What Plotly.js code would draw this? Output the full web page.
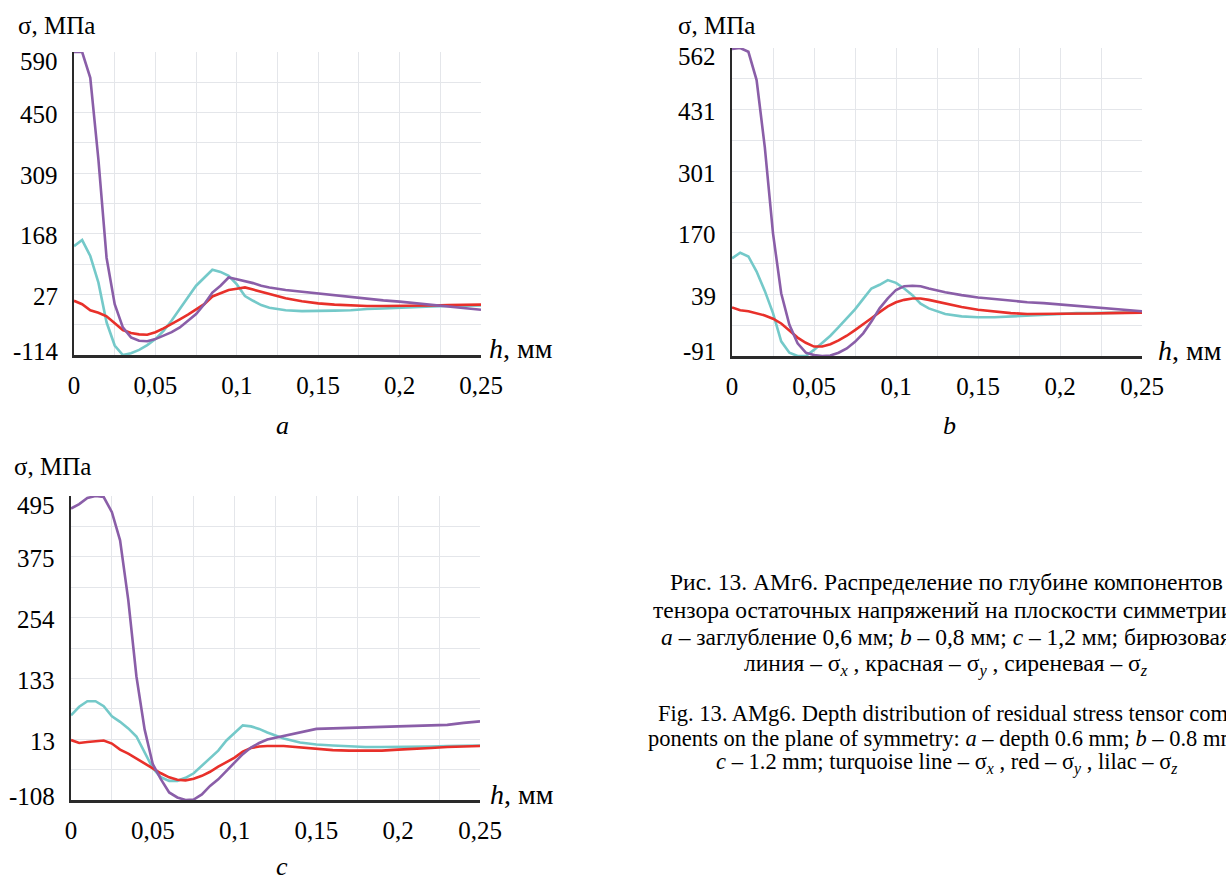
<!DOCTYPE html>
<html>
<head>
<meta charset="utf-8">
<script src="https://cdn.plot.ly/plotly-3.0.1.min.js"></script>
<style>
html,body{margin:0;padding:0;background:#fff;overflow:hidden;}
#chart{width:1226px;height:882px;}
</style>
</head>
<body>
<div id="chart"></div>
<script>
// depth h, mm
const H = [0,0.005,0.01,0.015,0.02,0.025,0.03,0.035,0.04,0.045,0.05,0.055,0.06,0.065,0.07,0.075,0.08,0.085,0.09,0.095,0.1,0.105,0.11,0.115,0.12,0.13,0.14,0.15,0.16,0.17,0.18,0.19,0.2,0.21,0.22,0.23,0.24,0.25];

// panel a – depth 0.6 mm
const A_SX = [139,153,116,54,-38,-92,-114,-110,-102,-91,-77,-58,-34,-8,20,47,66,84,79,70,50,23,12,2,-4,-10,-12,-12,-11,-10,-7,-6,-4,-2,-1,0,0,1];
const A_SY = [12,4,-10,-16,-24,-40,-56,-63,-66,-67,-61,-52,-42,-31,-20,-8,4,22,30,37,40,43,38,33,28,18,11,6,3,1,0,0,0,1,1,2,2,3];
const A_SZ = [590,590,530,340,112,4,-50,-73,-81,-82,-77,-69,-61,-50,-34,-19,4,31,47,66,62,58,53,47,43,37,33,28,24,20,17,13,10,6,2,-1,-5,-9];

// panel b – depth 0.8 mm
const B_SX = [116,128,120,88,47,0,-60,-84,-91,-91,-78,-64,-48,-30,-12,8,30,52,60,70,64,52,38,20,10,-2,-7,-9,-9,-7,-5,-3,-1,0,0,1,1,1];
const B_SY = [12,6,4,0,-5,-12,-22,-37,-52,-63,-71,-71,-66,-58,-48,-36,-24,-11,2,14,23,28,31,31,28,20,13,7,3,0,-2,-2,-2,-1,-1,0,0,1];
const B_SZ = [560,562,554,494,352,169,42,-25,-64,-84,-89,-91,-90,-84,-75,-61,-43,-18,10,31,49,57,58,57,52,44,38,33,30,26,23,21,18,15,12,9,7,4];

// panel c – depth 1.2 mm
const C_SX = [60,77,88,88,78,58,47,34,18,-12,-45,-63,-70,-70,-64,-55,-40,-25,-10,10,25,40,38,33,26,14,6,2,0,-2,-3,-3,-3,-2,-2,-1,0,0];
const C_SY = [11,5,7,9,10,4,-8,-16,-26,-36,-46,-55,-63,-68,-69,-66,-60,-52,-42,-33,-24,-12,-5,-2,-1,-1,-4,-7,-9,-10,-10,-10,-8,-7,-5,-3,-2,-1];
const C_SZ = [470,479,491,495,493,463,407,289,137,32,-37,-67,-93,-103,-108,-107,-97,-80,-67,-51,-34,-17,-4,5,12,19,27,33,34,35,35,36,37,38,39,41,45,48];

// tick labels
const X_TICKS = [0,0.05,0.1,0.15,0.2,0.25];
const X_LABELS = ['0','0,05','0,1','0,15','0,2','0,25'];
const A_YLABELS = ['-114','27','168','309','450','590'];
const B_YLABELS = ['-91','39','170','301','431','562'];
const C_YLABELS = ['-108','13','133','254','375','495'];
const PANEL_LETTERS = ['a','b','c'];

const CAPTION_RU = [
  'Рис. 13. АМг6. Распределение по глубине компонентов',
  'тензора остаточных напряжений на плоскости симметрии:',
  '<i>a</i> – заглубление 0,6 мм; <i>b</i> – 0,8 мм; <i>c</i> – 1,2 мм; бирюзовая',
  'линия – σ<sub><i>x</i></sub> , красная – σ<sub><i>y</i></sub> , сиреневая – σ<sub><i>z</i></sub>'
];
const CAPTION_EN = [
  'Fig. 13. AMg6. Depth distribution of residual stress tensor com-',
  'ponents on the plane of symmetry: <i>a</i> – depth 0.6 mm; <i>b</i> – 0.8 mm;',
  '<i>c</i> – 1.2 mm; turquoise line – σ<sub><i>x</i></sub> , red – σ<sub><i>y</i></sub> , lilac – σ<sub><i>z</i></sub>'
];
const CAPTION_RU_Y = [582,610,637,665];
const CAPTION_EN_Y = [713,738,763];

const COL_X = '#74c9c9';
const COL_Y = '#e8302a';
const COL_Z = '#8a5ea8';
const FONT = "'Liberation Serif', 'Times New Roman', serif";
const W = 1226, HH = 882;

function px(x){return x/W;}
function py(y){return (HH-y)/HH;}

function yGrid(labels){
  const lo=Number(labels[0]), hi=Number(labels[labels.length-1]);
  const vals=[];
  for(let i=0;i<=10;i++){vals.push(lo+(hi-lo)*i/10);}
  return {vals,lo,hi};
}

// panel geometry (pixels): left, right, top, bottom
const PANELS = [
  {l:74, r:481, t:52, b:355, ylab:A_YLABELS, data:[A_SX,A_SY,A_SZ], titleX:16, titleY:26, hX:487, letterX:282, letterY:425},
  {l:732, r:1142, t:48, b:356, ylab:B_YLABELS, data:[B_SX,B_SY,B_SZ], titleX:676, titleY:26, hX:1156, letterX:949, letterY:425},
  {l:71, r:480, t:496, b:800, ylab:C_YLABELS, data:[C_SX,C_SY,C_SZ], titleX:12, titleY:466, hX:488, letterX:282, letterY:866}
];

const traces=[];
const layout={
  width:W, height:HH, margin:{l:0,r:0,t:0,b:0},
  paper_bgcolor:'#fff', plot_bgcolor:'#fff', showlegend:false,
  font:{family:FONT, color:'#000'},
  annotations:[]
};
PANELS.forEach((p,i)=>{
  const n = i===0?'':String(i+1);
  const yg = yGrid(p.ylab);
  const cols=[COL_X,COL_Y,COL_Z];
  p.data.forEach((d,k)=>{
    traces.push({x:H, y:d, type:'scatter', mode:'lines', xaxis:'x'+n, yaxis:'y'+n,
      line:{color:cols[k], width:2.6}, hoverinfo:'skip'});
  });
  layout['xaxis'+n]={domain:[px(p.l),px(p.r)], anchor:'y'+n, range:[0,0.25],
    tickmode:'array', tickvals:X_TICKS, ticktext:X_LABELS, showgrid:true, gridcolor:'#e4e6ea', gridwidth:1,
    minor:{dtick:0.025, tick0:0, showgrid:true, gridcolor:'#e4e6ea', gridwidth:1, ticks:''},
    showline:true, linecolor:'#2a2a2a', linewidth:3, zeroline:false, ticks:'',
    ticklabelstandoff:6, tickfont:{family:FONT,size:25,color:'#000'}, fixedrange:true};
  layout['yaxis'+n]={domain:[py(p.b),py(p.t)], anchor:'x'+n, range:[yg.lo,yg.hi],
    tickmode:'array', tickvals:yg.vals, showticklabels:false, showgrid:true, gridcolor:'#e4e6ea', gridwidth:1,
    showline:true, linecolor:'#2a2a2a', linewidth:2.5, zeroline:false, ticks:'', fixedrange:true};
  // y tick labels (every second grid line), nudged inward at the ends like the original
  const last = p.ylab.length-1;
  p.ylab.forEach((lab,j)=>{
    const shift = j===0 ? 4 : (j===last ? -9 : -2);
    layout.annotations.push({text:lab, xref:'paper', yref:'y'+n, x:px(p.l-14), y:yg.vals[j*2],
      xanchor:'right', yanchor:'middle', yshift:shift, showarrow:false, font:{family:FONT,size:25,color:'#000'}});
  });
  layout.annotations.push({text:'σ, МПа', xref:'paper', yref:'paper', x:px(p.titleX), y:py(p.titleY),
    xanchor:'left', yanchor:'middle', showarrow:false, font:{family:FONT,size:25,color:'#000'}});
  layout.annotations.push({text:'<i>h</i>, мм', xref:'paper', yref:'paper', x:px(p.hX), y:py(p.b-6),
    xanchor:'left', yanchor:'middle', showarrow:false, font:{family:FONT,size:28,color:'#000'}});
  layout.annotations.push({text:'<i>'+PANEL_LETTERS[i]+'</i>', xref:'paper', yref:'paper', x:px(p.letterX), y:py(p.letterY),
    xanchor:'center', yanchor:'middle', showarrow:false, font:{family:FONT,size:26,color:'#000'}});
});
CAPTION_RU.forEach((t,i)=>{
  layout.annotations.push({text:t, xref:'paper', yref:'paper', x:px(946), y:py(CAPTION_RU_Y[i]),
    xanchor:'center', yanchor:'middle', showarrow:false, font:{family:FONT,size:23.5,color:'#000'}});
});
CAPTION_EN.forEach((t,i)=>{
  layout.annotations.push({text:t, xref:'paper', yref:'paper', x:px(946), y:py(CAPTION_EN_Y[i]),
    xanchor:'center', yanchor:'middle', showarrow:false, font:{family:FONT,size:22.5,color:'#000'}});
});

Plotly.newPlot('chart', traces, layout, {staticPlot:true, displayModeBar:false});
</script>
</body>
</html>
